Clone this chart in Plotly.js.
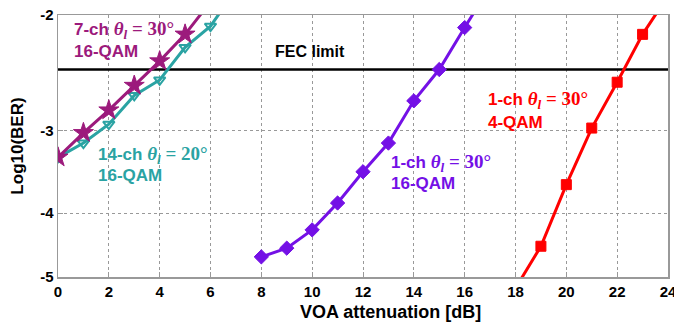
<!DOCTYPE html>
<html><head><meta charset="utf-8">
<script src="https://cdn.plot.ly/plotly-3.0.1.min.js"></script>
<style>html,body{margin:0;padding:0;background:#fff}#chart{width:674px;height:328px}</style>
</head><body><div id="chart"></div>
<script>
// Data: VOA attenuation (dB) and log10(BER)
const x7ch = [0, 1, 2, 3, 4, 5, 6];
const ber7ch = [-3.29, -3.02, -2.79, -2.56, -2.35, -2.14, -1.91];
const x14ch = [0, 1, 2, 3, 4, 5, 6, 7];
const ber14ch = [-3.29, -3.13, -2.93, -2.65, -2.51, -2.24, -2.08, -1.83];
const x1ch16 = [8, 9, 10, 11, 12, 13, 14, 15, 16, 17];
const ber1ch16 = [-4.66, -4.52, -4.24, -3.86, -3.46, -3.13, -2.70, -2.42, -2.09, -1.81];
const x1ch4 = [18, 19, 20, 21, 22, 23, 24];
const ber1ch4 = [-5.2, -4.49, -3.62, -2.97, -2.53, -2.14, -1.87];
const fecX = [0, 24];
const fecBer = [-2.42, -2.42];
const xTicks = [0, 2, 4, 6, 8, 10, 12, 14, 16, 18, 20, 22, 24];
const yTickVals = [-2, -3, -4, -5];

const neg = a => a.map(v => -v);
const C7 = '#9c1a7c', C14 = '#2aa3a3', C1 = '#7410e6', CR = '#ff0000';
const F = 'Liberation Sans, Arial, sans-serif';
const MF = 'Liberation Serif, serif';

function tr(x, y, color, symbol, size, lw) {
  return {x: x, y: neg(y), type: 'scatter', mode: 'lines+markers',
    line: {color: color, width: 3},
    marker: {color: color, symbol: symbol, size: size, line: {color: color, width: lw}},
    showlegend: false, hoverinfo: 'skip'};
}
const data = [
  {x: fecX, y: neg(fecBer), type: 'scatter', mode: 'lines', line: {color: '#000', width: 2.5}, showlegend: false, hoverinfo: 'skip'},
  tr(x14ch, ber14ch, C14, 'triangle-down-open', 10, 2),
  tr(x7ch, ber7ch, C7, 'star', 15, 1),
  tr(x1ch16, ber1ch16, C1, 'diamond', 11, 1),
  tr(x1ch4, ber1ch4, CR, 'square', 10, 1)
];

function lab(txt, col, xp, yp) {
  return {xref: 'paper', yref: 'paper', x: xp, y: yp, xanchor: 'left', yanchor: 'middle', showarrow: false,
    align: 'left', text: txt, font: {family: F, size: 17, color: col}};
}
function mathLine(prefix, angle) {
  return '<b>' + prefix + '</b> <span style="font-family:' + MF + ';font-size:19px"><b><i>θ<sub>l</sub></i> = ' + angle + '°</b></span>';
}
const W = 610, H = 262;
function px(xp) { return (xp - 58) / W; }
function py(yp) { return 1 - (yp - 15) / H; }

const layout = {
  width: 674, height: 328,
  margin: {l: 58, r: 6, t: 15, b: 51},
  paper_bgcolor: '#fff', plot_bgcolor: '#fff',
  font: {family: F, color: '#000'},
  xaxis: {range: [0, 24], tickvals: xTicks, ticktext: xTicks.map(String),
    showgrid: true, gridcolor: '#999', griddash: 'dot', gridwidth: 1,
    showline: true, mirror: true, linecolor: '#999', linewidth: 1.5,
    ticks: 'inside', ticklen: 5, tickcolor: '#999', zeroline: false,
    ticklabeloverflow: 'allow',
    tickfont: {family: F, size: 15, color: '#000', weight: 'bold'}},
  yaxis: {type: 'log', range: [Math.log10(5), Math.log10(2)],
    tickvals: neg(yTickVals), ticktext: yTickVals.map(String),
    showgrid: true, gridcolor: '#999', griddash: 'dot', gridwidth: 1,
    showline: true, mirror: true, linecolor: '#999', linewidth: 1.5,
    ticks: 'inside', ticklen: 5, tickcolor: '#999', zeroline: false,
    tickfont: {family: F, size: 15, color: '#000', weight: 'bold'},
    title: {text: '<b>Log10(BER)</b>', font: {family: F, size: 17, color: '#000'}, standoff: 12}},
  annotations: [
    lab(mathLine('7-ch', 30), C7, px(72), py(30)),
    lab('<b>16-QAM</b>', C7, px(72), py(52)),
    lab(mathLine('14-ch', 20), C14, px(96), py(155)),
    lab('<b>16-QAM</b>', C14, px(96), py(175)),
    lab(mathLine('1-ch', 30), C1, px(389), py(163)),
    lab('<b>16-QAM</b>', C1, px(389), py(183)),
    lab(mathLine('1-ch', 30), CR, px(486), py(100)),
    lab('<b>4-QAM</b>', CR, px(486), py(122)),
    {xref: 'paper', yref: 'paper', x: px(310), y: py(52), xanchor: 'center', yanchor: 'middle', showarrow: false,
     text: '<b>FEC limit</b>', font: {family: F, size: 16, color: '#000'}},
    {xref: 'paper', yref: 'paper', x: px(390), y: py(312), xanchor: 'center', yanchor: 'middle', showarrow: false,
     text: '<b>VOA attenuation [dB]</b>', font: {family: F, size: 18, color: '#000'}}
  ]
};
Plotly.newPlot('chart', data, layout, {staticPlot: true, displayModeBar: false});
</script></body></html>
